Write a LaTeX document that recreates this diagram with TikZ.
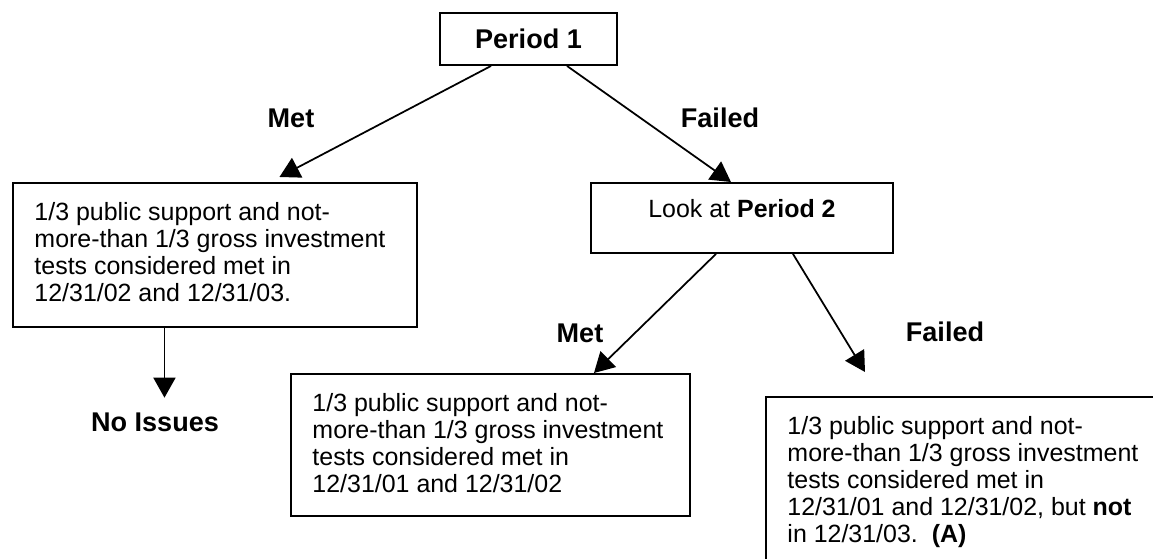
\documentclass[tikz,border=0pt]{standalone}
\usepackage{fontspec}
\setmainfont{Liberation Sans}
\usetikzlibrary{arrows.meta}
\newcommand{\boxtext}[3]{\parbox[c][#1][t]{#2}{\raggedright #3}}
\tikzset{
	stmt/.style={draw, line width=1.1pt, anchor=north west, inner xsep=0.43cm, inner ysep=0.39cm,
			font=\fontsize{14.2}{15.36}\selectfont},
	lbl/.style={font=\fontsize{15.4}{18}\selectfont\bfseries, inner sep=2pt},
	arr/.style={line width=1pt, -{Triangle[length=0.4cm,width=0.44cm]}}
}

\begin{document}
\begin{tikzpicture}
        \clip (0, 0) rectangle (23.06, -11.18);
        \node[lbl, draw, line width=1.1pt, minimum width=3.54cm, minimum height=1.04cm] (p1) at (10.57, -0.78) {Period 1};
        \node[stmt] (met1box) at (0.24, -3.64) {\boxtext{2.10cm}{7.22cm}{1/3 public support and not-\\more-than 1/3 gross investment\\tests considered met in\\12/31/02 and 12/31/03.}};
        \node[stmt, inner ysep=0.32cm] (look) at (11.80, -3.64) {\boxtext{0.76cm}{5.18cm}{\centering Look at \textbf{Period 2}}};
        \node[stmt] (met2box) at (5.80, -7.46) {\boxtext{2.06cm}{7.12cm}{1/3 public support and not-\\more-than 1/3 gross investment\\tests considered met in\\12/31/01 and 12/31/02}};
        \node[stmt] (fail2box) at (15.30, -7.92) {\boxtext{2.8cm}{7.14cm}{1/3 public support and not-\\more-than 1/3 gross investment\\tests considered met in\\12/31/01 and 12/31/02, but \textbf{not}\\in 12/31/03.~~\textbf{(A)}}};
        \node[lbl] (met1) at (5.82, -2.36) {Met};
        \node[lbl] (fail1) at (14.40, -2.36) {Failed};
        \node[lbl] (met2) at (11.60, -6.66) {Met};
        \node[lbl] (fail2) at (18.90, -6.64) {Failed};
        \node[lbl] (noiss) at (3.10, -8.44) {No Issues};
        \draw[arr] ([xshift=-0.75cm]p1.south) -- ([xshift=1.29cm, yshift=0.1cm]met1box.north);
        \draw[arr] ([xshift=0.77cm]p1.south) -- ([xshift=-0.22cm]look.north);
        \draw[arr] ([xshift=-0.52cm]look.south) -- ([xshift=2.07cm]met2box.north);
        \draw[arr] ([xshift=1.02cm]look.south) -- ([xshift=2cm, yshift=0.48cm]fail2box.north west);
        \draw[arr, shorten >=0.22cm] ([xshift=-1.01cm]met1box.south) -- ([xshift=-1.01cm]met1box.south |- noiss.north);
\end{tikzpicture}
\end{document}
